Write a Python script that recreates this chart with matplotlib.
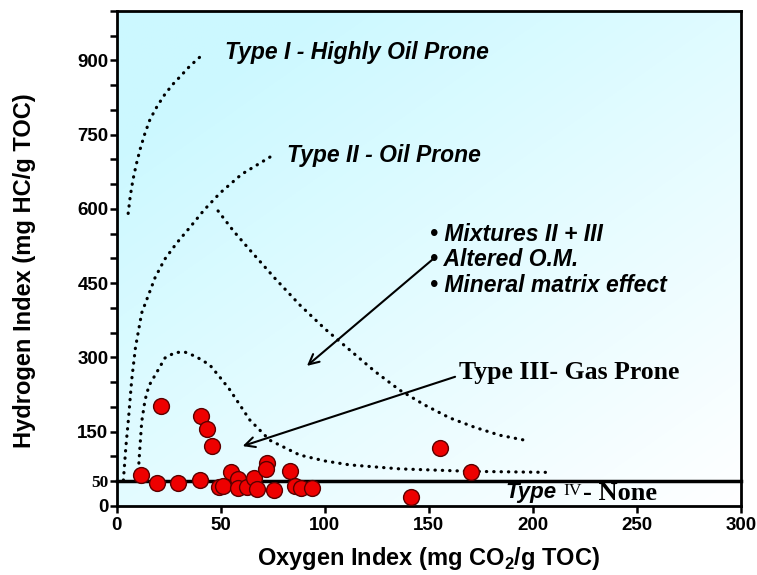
import numpy as np
import matplotlib
matplotlib.use("Agg")
import matplotlib.pyplot as plt

# sample points (Oxygen Index, Hydrogen Index)
oi = [11.7, 21.3, 19.2, 29.6, 40.0, 40.3, 43.2, 45.6, 49.3, 51.0, 54.8, 58.4, 58.1,
      62.4, 66.0, 67.2, 72.1, 71.6, 75.7, 83.3, 85.7, 88.4, 94.0, 155.4, 170.2, 141.4]
hi = [62, 202, 47, 46, 52, 182, 155, 121, 38, 40, 69, 54, 36,
      38, 56, 34, 86, 74, 32, 71, 40, 36, 37, 117, 69, 18]

# kerogen type boundary curves
type1_x = [5.5, 6.5, 7.8, 9.4, 11.2, 13.5, 16.0, 19.5, 23.2, 27.0, 30.4, 35.0, 40.0]
type1_y = [591, 626, 659, 690, 720, 752, 781, 808, 832, 852, 867, 888, 907]

type2_x = [3.2, 4.4, 5.6, 7.2, 9.0, 12.0, 18.4, 23.0, 28.8, 35.0, 42.0, 49.6, 60.0, 74.5]
type2_y = [52, 120, 174, 255, 320, 390, 461, 498, 531, 562, 598, 632, 670, 707]

type3_x = [10.2, 11.0, 12.0, 13.6, 15.5, 18.4, 23.2, 28.0, 32.7, 38.0, 44.7, 49.6, 54.3,
           63.9, 73.5, 87.9, 100.0, 112.0, 136.0, 170.0, 206.0]
type3_y = [57, 110, 170, 214, 243, 264, 299, 310, 311, 302, 285, 260, 235,
           174, 133, 103, 91, 83, 75, 70, 68]

mix_x = [48.7, 56.0, 64.0, 76.0, 88.0, 100.0, 112.0, 124.0, 136.0, 148.0, 160.0, 172.0, 184.0, 196.0]
mix_y = [596, 556, 517, 460, 406, 358, 315, 272, 234, 204, 178, 159, 143, 133]

fig = plt.figure(figsize=(7.57, 5.75), dpi=100)
ax = fig.add_axes([0.1542, 0.12, 0.9789 - 0.1542, 0.981 - 0.12])
ax.set_xlim(0, 300)
ax.set_ylim(0, 1000)

# background gradient: cyan at top-left fading to white at bottom-right
u, v = np.meshgrid(np.linspace(0, 1, 300), np.linspace(0, 1, 300))
w = np.clip(0.55 * (1 - u) + 0.62 * v, 0, 1)[..., None]
cyan = np.array([0.80, 0.975, 1.0])
img = (1 - w) * np.ones(3) + w * cyan
ax.imshow(img, extent=[0, 300, 0, 1000], origin="lower", aspect="auto", zorder=0)

dot = dict(color="black", lw=2.3, linestyle=(0, (0.1, 2.2)), dash_capstyle="round",
           solid_joinstyle="round", zorder=2)
ax.plot(type1_x, type1_y, **dot)
ax.plot(type2_x, type2_y, **dot)
ax.plot(type3_x, type3_y, **dot)
ax.plot(mix_x, mix_y, **dot)

ax.axhline(50, color="black", lw=2.5, zorder=3, clip_on=False)

ax.scatter(oi, hi, s=130, color="#ee0000", edgecolor="#5a0000", linewidth=1.0, zorder=4)

# labels
bi = dict(fontfamily="Liberation Sans", fontweight="bold", fontstyle="italic", fontsize=16.5)
ax.text(52, 917, "Type I - Highly Oil Prone", va="center", ha="left", **bi)
ax.text(82, 707, "Type II - Oil Prone", va="center", ha="left", **bi)
ax.text(150.6, 548, "\u2022 Mixtures II + III", va="center", ha="left", **bi)
ax.text(150.6, 497, "\u2022 Altered O.M.", va="center", ha="left", **bi)
ax.text(150.6, 445, "\u2022 Mineral matrix effect", va="center", ha="left", **bi)
ax.text(164.4, 269, "Type III- Gas Prone", va="center", ha="left",
        fontfamily="Liberation Serif", fontweight="bold", fontsize=18.5)
ax.text(186.6, 28, "Type", va="center", ha="left",
        fontfamily="Liberation Sans", fontweight="bold", fontstyle="italic", fontsize=16)
ax.text(214.5, 31, "IV", va="center", ha="left", fontfamily="Liberation Serif", fontsize=12.5)
ax.text(224, 26, "- None", va="center", ha="left",
        fontfamily="Liberation Serif", fontweight="bold", fontsize=19)

arrow = dict(arrowstyle="->", color="black", lw=1.5, mutation_scale=18, shrinkA=0, shrinkB=0)
ax.annotate("", xy=(91.4, 283), xytext=(151.5, 497), arrowprops=arrow, zorder=5)
ax.annotate("", xy=(60.5, 121), xytext=(162.6, 261), arrowprops=arrow, zorder=5)

# axes and ticks
for s in ax.spines.values():
    s.set_linewidth(2)
ax.set_xticks([0, 50, 100, 150, 200, 250, 300])
ax.set_yticks([0, 50, 150, 300, 450, 600, 750, 900])
ax.set_yticks(np.arange(0, 1001, 50), minor=True)
ax.tick_params(which="both", direction="out", length=5, width=1.8)
ax.tick_params(axis="x", pad=3)
ax.tick_params(axis="y", pad=1)
for lab in ax.get_xticklabels() + ax.get_yticklabels():
    lab.set_fontfamily("Liberation Sans")
    lab.set_fontweight("bold")
    lab.set_fontsize(13.5)
ylabs = ax.get_yticklabels()
ylabs[1].set_fontfamily("Liberation Serif")
ylabs[1].set_fontsize(12.5)

ax.set_xlabel("Oxygen Index (mg CO$_\\mathregular{2}$/g TOC)", fontfamily="Liberation Sans",
              fontweight="bold", fontsize=17, labelpad=8)
ax.set_ylabel("Hydrogen Index (mg HC/g TOC)", fontfamily="Liberation Sans",
              fontweight="bold", fontsize=17, labelpad=30)
ax.yaxis.label.set_y(0.475)

fig.savefig("out.png", dpi=100)
